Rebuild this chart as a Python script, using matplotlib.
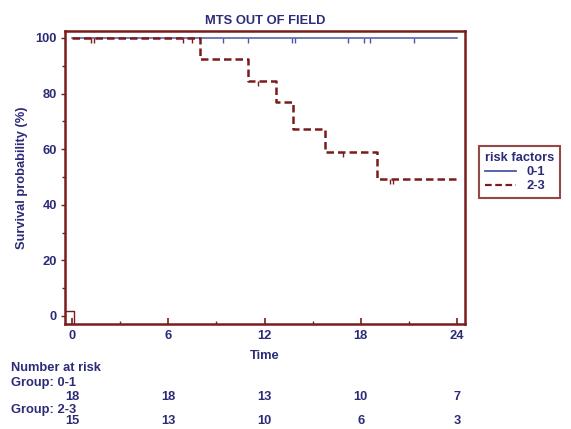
import numpy as np
import matplotlib
matplotlib.use('Agg')
import matplotlib.pyplot as plt
from matplotlib.lines import Line2D

# Kaplan-Meier curves
times_01 = [0, 24]
surv_01 = [100, 100]
cens_01 = [9.4, 11.0, 13.7, 13.9, 17.2, 18.2, 18.6, 21.3]

times_23 = [0, 8.0, 11.0, 12.7, 13.8, 15.8, 19.0, 24]
surv_23 = [100, 92.3, 84.6, 76.9, 67.4, 59.0, 49.2, 49.2]
cens_23_t = [1.2, 1.4, 6.9, 7.5, 11.6, 16.9, 19.8, 20.0]
cens_23_s = [100, 100, 100, 100, 84.6, 59.0, 49.2, 49.2]

risk_times = [0, 6, 12, 18, 24]
risk_01 = [18, 18, 13, 10, 7]
risk_23 = [15, 13, 10, 6, 3]

NAVY = '#2b2b78'
BLUE = '#4a56a6'
RED = '#7a1c1c'
FS = 9.3

plt.rcParams['font.family'] = ['Liberation Sans', 'DejaVu Sans']
plt.rcParams['font.weight'] = 'bold'
plt.rcParams['font.size'] = FS

fig = plt.figure(figsize=(5.71, 4.29), dpi=100)
ax = fig.add_axes([0.1138, 0.2448, 0.7006, 0.6829])

ax.step(times_01, surv_01, where='post', color=BLUE, lw=1.1)
ax.vlines(cens_01, 98.2, 100, color=BLUE, lw=1.0)
ax.step(times_23, surv_23, where='post', color=RED, lw=1.8, ls=(0, (3, 1.6)))
ax.vlines(cens_23_t, np.array(cens_23_s) - 1.8, cens_23_s, color=RED, lw=1.0)
# small mark at origin
ax.plot([-0.44, 0.1, 0.1], [1.6, 1.6, -2.9], color=RED, lw=1.0)

ax.set_xlim(-0.44, 24.5)
ax.set_ylim(-2.9, 102.5)
ax.set_xticks(risk_times)
ax.set_xticks([3, 9, 15, 21], minor=True)
ax.set_yticks([0, 20, 40, 60, 80, 100])
ax.set_yticks([10, 30, 50, 70, 90], minor=True)
ax.tick_params(axis='x', which='major', direction='in', length=4, width=1.2, colors=RED, labelcolor=NAVY, pad=4)
ax.tick_params(axis='x', which='minor', direction='in', length=2.5, width=1.0, colors=RED)
ax.tick_params(axis='y', which='major', direction='out', length=3, width=1.0, colors=RED, labelcolor=NAVY, pad=3)
ax.tick_params(axis='y', which='minor', direction='out', length=2, width=1.0, colors=RED)
for lbl in ax.get_xticklabels() + ax.get_yticklabels():
    lbl.set_fontweight('bold')

for sp in ax.spines.values():
    sp.set_color(RED)
    sp.set_linewidth(1.8)

ax.set_title('MTS OUT OF FIELD', color=NAVY, fontweight='bold', fontsize=FS, pad=5)
ax.set_xlabel('Time', color=NAVY, fontweight='bold', labelpad=6)
ax.set_ylabel('Survival probability (%)', color=NAVY, fontweight='bold', labelpad=5)

handles = [Line2D([], [], color=BLUE, lw=1.3),
           Line2D([], [], color=RED, lw=1.6, ls=(0, (3, 1.6)))]
leg = ax.legend(handles, ['0-1', '2-3'], title='risk factors', loc='upper left',
                bbox_to_anchor=(0.828, 0.674), bbox_transform=fig.transFigure,
                fancybox=False, frameon=True, handlelength=2.4, handletextpad=0.8,
                borderpad=0.45, labelspacing=0.15, prop={'weight': 'bold', 'size': FS})
leg.get_frame().set_edgecolor(RED)
leg.get_frame().set_linewidth(1.5)
leg._legend_box.align = 'left'
leg.get_title().set_color(NAVY)
leg.get_title().set_fontweight('bold')
leg.get_title().set_fontsize(FS)
for t in leg.get_texts():
    t.set_color(NAVY)

# number at risk table
fig.text(11 / 571, 1 - 368 / 429, 'Number at risk', color=NAVY, fontweight='bold', va='center')
fig.text(11 / 571, 1 - 383 / 429, 'Group: 0-1', color=NAVY, fontweight='bold', va='center')
fig.text(11 / 571, 1 - 410 / 429, 'Group: 2-3', color=NAVY, fontweight='bold', va='center')
for t, n1, n2 in zip(risk_times, risk_01, risk_23):
    xf = fig.transFigure.inverted().transform(ax.transData.transform((t, 0)))[0]
    fig.text(xf, 1 - 397 / 429, str(n1), color=NAVY, fontweight='bold', ha='center', va='center')
    fig.text(xf, 1 - 421 / 429, str(n2), color=NAVY, fontweight='bold', ha='center', va='center')

fig.savefig('out.png', dpi=100)
